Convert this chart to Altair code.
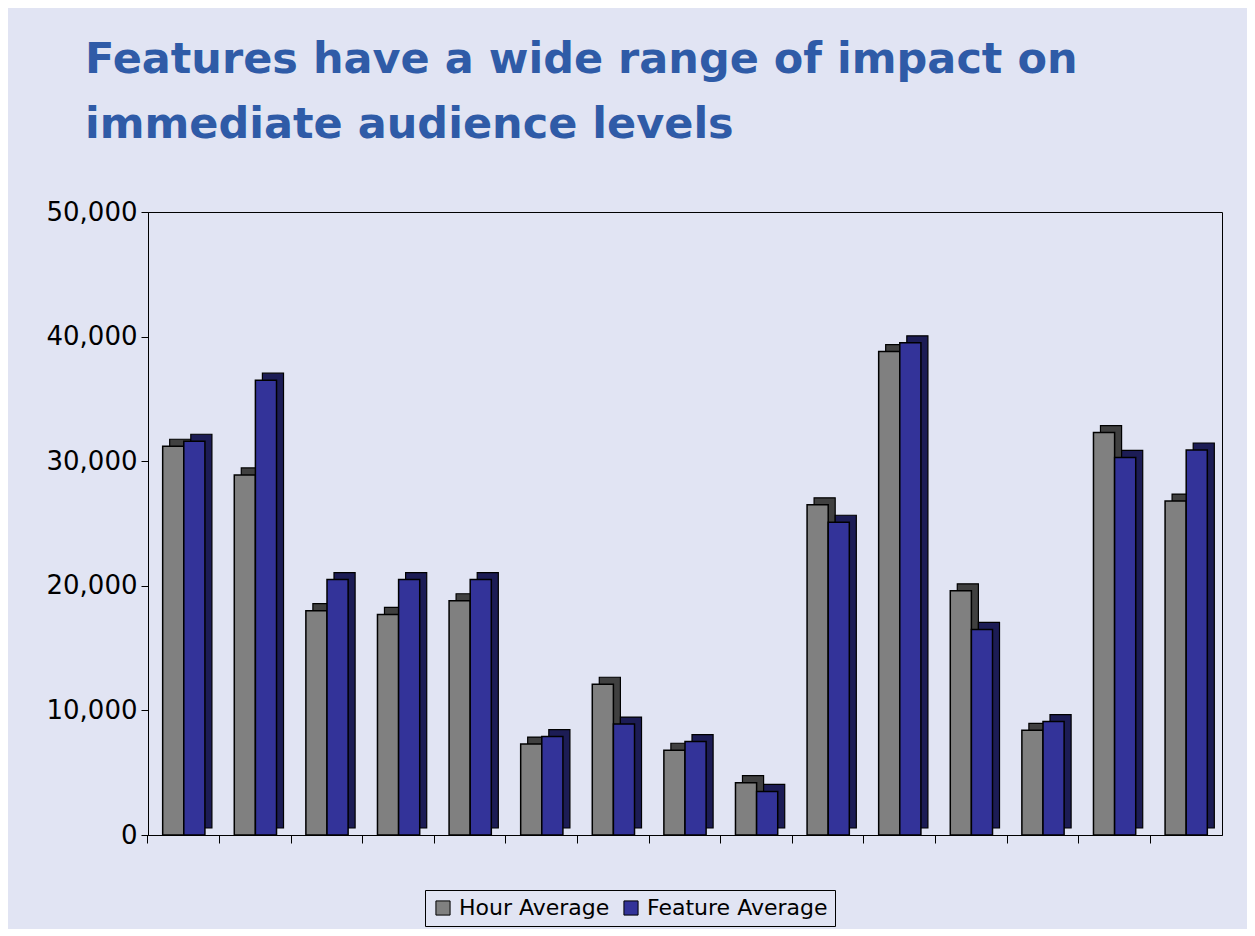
import altair as alt
import pandas as pd

features = [f"F{i}" for i in range(1, 16)]
hour_avg = [31200, 28900, 18000, 17700, 18800, 7300, 12100, 6800, 4200, 26500, 38800, 19600, 8400, 32300, 26800]
feature_avg = [31600, 36500, 20500, 20500, 20500, 7900, 8900, 7500, 3500, 25100, 39500, 16500, 9100, 30300, 30900]
series = ["Hour Average", "Feature Average"]
front_colors = ["#808080", "#333399"]
side_colors = ["#404040", "#1C1C55"]

rows = []
for i, f in enumerate(features):
    rows.append({"feature": f, "series": series[0], "value": hour_avg[i], "side": side_colors[0]})
    rows.append({"feature": f, "series": series[1], "value": feature_avg[i], "side": side_colors[1]})
df = pd.DataFrame(rows)

BG = "#E1E4F3"
FONT = "DejaVu Sans"
DEPTH = 7
BANDW = 42.24

x_enc = alt.X("feature:N", sort=features,
              scale=alt.Scale(paddingInner=0.41, paddingOuter=0.205),
              axis=alt.Axis(title=None, labels=False, bandPosition=-0.3475, tickSize=8,
                            tickColor="black", domainColor="black", tickWidth=1))
y_enc = alt.Y("value:Q", scale=alt.Scale(domain=[0, 50000], nice=False),
              axis=alt.Axis(title=None, format=",.0f", values=[0, 10000, 20000, 30000, 40000, 50000],
                            grid=False, tickSize=7, tickColor="black", domainColor="black",
                            labelFontSize=26, labelColor="black", labelFont=FONT,
                            labelPadding=4))

back = alt.Chart(df).mark_bar(yOffset=-DEPTH, stroke="black", strokeWidth=1.2).encode(
    x=x_enc, y=y_enc,
    xOffset=alt.XOffset("series:N", sort=series,
                        scale=alt.Scale(domain=series, range=[DEPTH, BANDW + DEPTH])),
    fill=alt.Fill("side:N", scale=None, legend=None),
)

front = alt.Chart(df).mark_bar(stroke="black", strokeWidth=1.5).encode(
    x=x_enc, y=y_enc,
    xOffset=alt.XOffset("series:N", sort=series,
                        scale=alt.Scale(domain=series, range=[0, BANDW])),
    color=alt.Color("series:N", sort=series,
                    scale=alt.Scale(domain=series, range=front_colors),
                    legend=alt.Legend(title=None, orient="none", legendX=277, legendY=678,
                                      direction="horizontal", symbolType="square",
                                      symbolSize=200, symbolStrokeColor="black",
                                      symbolStrokeWidth=1, labelFontSize=22,
                                      labelFont=FONT, labelColor="black", labelLimit=400,
                                      strokeColor="black", fillColor=BG, padding=7,
                                      columnPadding=10, labelOffset=5)),
)

chart = alt.layer(back, front).resolve_scale(xOffset="independent").properties(
    width=1074, height=623,
    background=BG,
    padding={"left": 38, "top": 31, "right": 25, "bottom": 2},
    title=alt.TitleParams(
        ["Features have a wide range of impact on", "immediate audience levels"],
        anchor="start", frame="group", dx=-63, fontSize=43, font=FONT, fontWeight="bold",
        color="#2F5BA7", lineHeight=65, offset=52, baseline="top",
    ),
).configure_view(stroke="black", strokeWidth=1)

chart.save("out.html", embed_options={"renderer": "svg", "actions": False})
